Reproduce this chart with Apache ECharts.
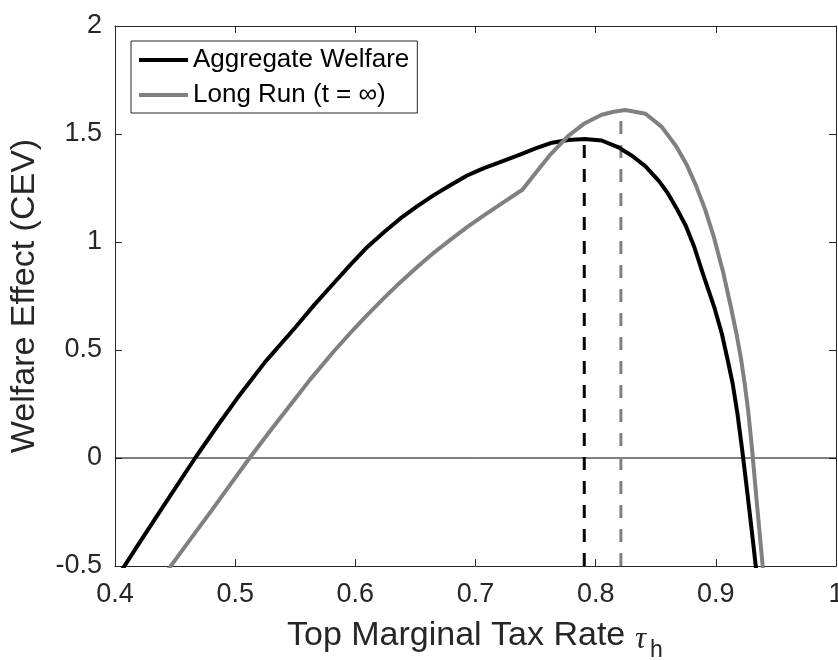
<!DOCTYPE html>
<html>
<head>
<meta charset="utf-8">
<script src="https://cdn.jsdelivr.net/npm/echarts@6/dist/echarts.min.js"></script>
<style>html,body{margin:0;padding:0;background:#fff}#c{width:838px;height:660px}</style>
</head>
<body>
<div id="c"></div>
<script>
// Aggregate Welfare curve
var aggX = [0.405,0.42,0.44,0.4667,0.485,0.5014,0.525,0.55,0.566,0.582,0.596,0.61,0.624,0.6375,0.651,0.665,0.679,0.693,0.707,0.721,0.7375,0.75,0.7625,0.777,0.791,0.805,0.819,0.8305,0.8415,0.8527,0.86,0.867,0.875,0.882,0.889,0.8986,0.905,0.91,0.914,0.918,0.922,0.926,0.931,0.936];
var aggY = [-0.525,-0.395,-0.225,0,0.147,0.274,0.445,0.604,0.71,0.809,0.895,0.977,1.046,1.109,1.164,1.216,1.263,1.308,1.342,1.371,1.406,1.433,1.458,1.472,1.477,1.470,1.438,1.398,1.350,1.282,1.226,1.159,1.075,0.978,0.857,0.700,0.575,0.45,0.345,0.205,0.035,-0.15,-0.39,-0.64];
// Long Run curve
var lrX = [0.4425,0.4625,0.48,0.495,0.512,0.53,0.5475,0.5625,0.582,0.5986,0.61,0.624,0.6375,0.651,0.665,0.679,0.693,0.707,0.721,0.739,0.751,0.7625,0.777,0.791,0.805,0.815,0.8247,0.8415,0.855,0.867,0.876,0.8836,0.891,0.898,0.906,0.9125,0.917,0.9208,0.924,0.927,0.9305,0.934,0.941];
var lrY = [-0.53,-0.378,-0.246,-0.13,0,0.132,0.257,0.364,0.493,0.596,0.663,0.741,0.814,0.882,0.949,1.010,1.069,1.123,1.175,1.242,1.326,1.406,1.490,1.550,1.589,1.603,1.611,1.594,1.533,1.443,1.355,1.260,1.152,1.030,0.862,0.700,0.580,0.465,0.345,0.215,0.02,-0.20,-0.62];
// Optimal rates (dashed markers)
var aggOptX = 0.7905, aggOptY = 1.477;
var lrOptX = 0.821, lrOptY = 1.612;
var xTicks = [0.4,0.5,0.6,0.7,0.8,0.9,1];
var yTicks = [-0.5,0,0.5,1,1.5,2];
var seriesNames = ['Aggregate Welfare', 'Long Run (t = \u221E)'];

function zip(a, b) { return a.map(function (v, i) { return [v, b[i]]; }); }

var FONT = '"Liberation Sans", Arial, sans-serif';
var AX = '#262626';
var GRAY = '#808080';

function xAxisCfg(pos, showLabel) {
  return {
    type: 'value', position: pos, min: xTicks[0], max: xTicks[xTicks.length - 1], interval: 0.1,
    axisLine: { show: true, onZero: false, lineStyle: { color: AX, width: 1 } },
    axisTick: { show: true, inside: true, length: 7, lineStyle: { color: AX } },
    splitLine: { show: false },
    axisLabel: { show: showLabel, margin: 15, color: AX, fontSize: 27, fontFamily: FONT }
  };
}
function yAxisCfg(pos, showLabel) {
  return {
    type: 'value', position: pos, min: yTicks[0], max: yTicks[yTicks.length - 1], interval: 0.5,
    axisLine: { show: true, onZero: false, lineStyle: { color: AX, width: 1 } },
    axisTick: { show: true, inside: true, length: 7, lineStyle: { color: AX } },
    splitLine: { show: false },
    axisLabel: { show: showLabel, margin: 13, color: AX, fontSize: 27, fontFamily: FONT }
  };
}

var yName = yAxisCfg('left', true);
yName.name = 'Welfare Effect (CEV)';
yName.nameLocation = 'middle';
yName.nameGap = 73;
yName.nameTextStyle = { color: AX, fontSize: 34, fontFamily: FONT };

var chart = echarts.init(document.getElementById('c'), null, { renderer: 'canvas' });
chart.setOption({
  animation: false,
  backgroundColor: '#fff',
  grid: { left: 115, right: 2, top: 26, bottom: 94, containLabel: false, outerBoundsMode: 'none' },
  xAxis: [xAxisCfg('bottom', true), xAxisCfg('top', false)],
  yAxis: [yName, yAxisCfg('right', false)],
  legend: {
    data: seriesNames,
    orient: 'vertical', left: 131, top: 41,
    padding: [6, 8, 5, 8], itemGap: 9,
    itemWidth: 49, itemHeight: 4, icon: 'rect',
    borderColor: AX, borderWidth: 1, backgroundColor: '#fff',
    textStyle: { color: '#000', fontSize: 26, fontFamily: FONT }
  },
  graphic: [
    { type: 'text', left: 287, top: 619, silent: true,
      style: { text: 'Top Marginal Tax Rate', fill: AX, font: '34px ' + FONT } },
    { type: 'text', left: 635, top: 624, silent: true,
      style: { text: '\u03C4', fill: AX, font: 'italic 31px "Liberation Serif", "DejaVu Serif", serif' } },
    { type: 'text', left: 650, top: 639, silent: true,
      style: { text: 'h', fill: AX, font: '23px ' + FONT } }
  ],
  series: [
    {
      name: 'zero', type: 'line', data: zip([xTicks[0], xTicks[xTicks.length - 1]], [0, 0]),
      showSymbol: false, symbol: 'none', silent: true, z: 1,
      lineStyle: { color: '#000', width: 1 }
    },
    {
      name: 'aggOpt', type: 'line', data: zip([aggOptX, aggOptX], [yTicks[0], aggOptY]),
      symbol: 'none', silent: true, z: 2,
      lineStyle: { color: '#000', width: 3, type: [13, 11] }
    },
    {
      name: 'lrOpt', type: 'line', data: zip([lrOptX, lrOptX], [yTicks[0], lrOptY]),
      symbol: 'none', silent: true, z: 2,
      lineStyle: { color: GRAY, width: 3, type: [13, 11] }
    },
    {
      name: seriesNames[0], type: 'line', data: zip(aggX, aggY),
      symbol: 'none', smooth: false, clip: true, z: 3,
      itemStyle: { color: '#000' }, lineStyle: { color: '#000', width: 4, join: 'round' }
    },
    {
      name: seriesNames[1], type: 'line', data: zip(lrX, lrY),
      symbol: 'none', smooth: false, clip: true, z: 4,
      itemStyle: { color: GRAY }, lineStyle: { color: GRAY, width: 4, join: 'round' }
    }
  ]
});
</script>
</body>
</html>
